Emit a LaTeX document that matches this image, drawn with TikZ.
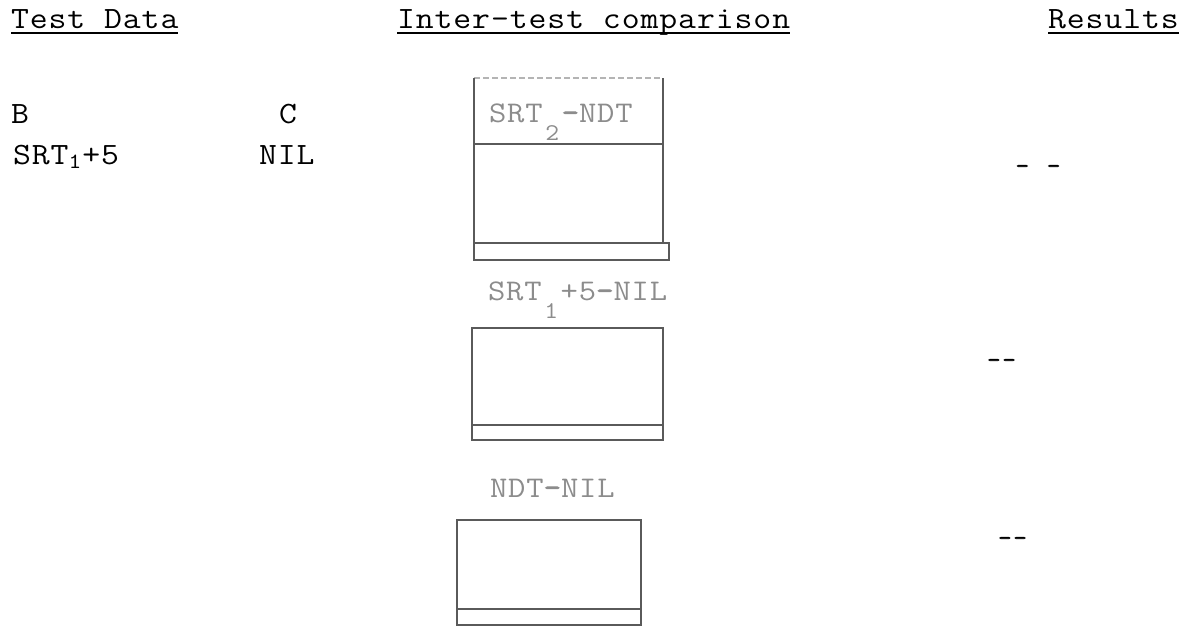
\documentclass[tikz,border=0pt]{standalone}
\usepackage{fontspec}
\newfontfamily\courtxt{Latin Modern Mono}[FakeStretch=1.12,LetterSpace=3]
\newfontfamily\courbold{Latin Modern Mono}[FakeStretch=1.12,LetterSpace=3,FakeBold=2.5]
\definecolor{boxgray}{HTML}{5A5A5A}
\definecolor{labgray}{HTML}{8C8C8C}
\definecolor{faint}{HTML}{B4B4B4}
\begin{document}
\begin{tikzpicture}[x=0.5pt,y=-0.5pt,
  txt/.style={anchor=base west,inner sep=0pt,outer sep=0pt,font=\courtxt\fontsize{15.5pt}{18pt}\selectfont,text=black},
  lab/.style={anchor=base west,inner sep=0pt,outer sep=0pt,font=\courtxt\fontsize{15pt}{18pt}\selectfont,text=labgray},
  dashtxt/.style={anchor=base,inner sep=0pt,outer sep=0pt,font=\courbold\fontsize{11.5pt}{14pt}\selectfont,text=black},
  uline/.style={line width=1.1pt,black},
  sketch/.style={draw=boxgray,line width=1.1pt},
  faintline/.style={draw=faint,line width=0.8pt,dash pattern=on 3pt off 1.5pt}]
\useasboundingbox (0,0) rectangle (1198,632);
% headings
\node[txt] (h1) at (11,28) {Test Data};
\node[txt] (h2) at (397,28) {Inter-test comparison};
\node[txt] (h3) at (1048,28) {Results};
\foreach \n in {h1,h2,h3}{
  \draw[uline] ([yshift=-2.6pt]\n.base west) -- ([yshift=-2.6pt]\n.base east);
}
% test data
\node[txt] (b) at (11,123) {B};
\node[txt] (c) at (279,123) {C};
\node[txt] (bv) at (13,164) {SRT\textsubscript{1}+5};
\node[txt] (cv) at (259,164) {NIL};
% box 1
\node[lab] (l1) at (489,122) {SRT\makebox[9.5pt]{\raisebox{-9pt}{\fontsize{12pt}{14pt}\selectfont 2}}{\courbold -}NDT};
\draw[faintline] (474,78) -- (663,78);
\draw[sketch] (474,78) -- (474,243) (663,78) -- (663,243);
\draw[sketch] (474,144) -- (663,144);
\draw[sketch] (474,243) rectangle (669,260);
% box 2
\node[lab] (l2) at (488,300) {SRT\makebox[9.5pt]{\raisebox{-9pt}{\fontsize{12pt}{14pt}\selectfont 1}}+5{\courbold -}NIL};
\draw[sketch] (472,328) rectangle (663,440);
\draw[sketch] (472,425) -- (663,425);
% box 3
\node[lab] (l3) at (490,497) {NDT{\courbold -}NIL};
\draw[sketch] (457,520) rectangle (641,625);
\draw[sketch] (457,609) -- (641,609);
% results
\node[dashtxt] (r1) at (1038,173) {-\hspace{9pt}-};
\node[dashtxt] (r2) at (1001.5,367) {-\hspace{1pt}-};
\node[dashtxt] (r3) at (1012.5,545) {-\hspace{1pt}-};
\end{tikzpicture}
\end{document}
